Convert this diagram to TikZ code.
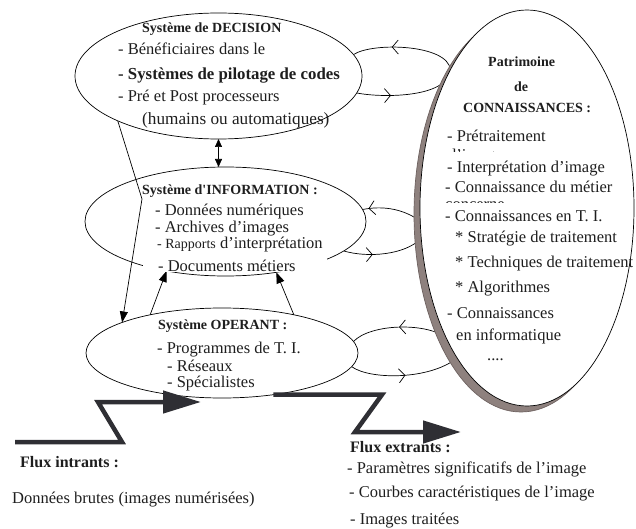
\documentclass[tikz,border=0pt]{standalone}
\usepackage{fontspec}
\setmainfont{Liberation Serif}
\usetikzlibrary{arrows.meta,shapes.geometric,decorations.markings,shadows,calc}
\pgfdeclarelayer{bg}
\pgfsetlayers{bg,main}
\definecolor{txt}{HTML}{1E1E1E}
\definecolor{shadowc}{HTML}{8E817E}
\definecolor{shadowd}{HTML}{6E6260}
\definecolor{flow}{HTML}{2F2F34}
\tikzset{
 sysell/.style={ellipse, draw=black, line width=0.7pt, fill=white, inner sep=0pt, outer sep=0pt},
 hd/.style={anchor=base west, inner sep=0pt, text=txt, font=\fontsize{14}{16}\selectfont\bfseries},
 hdb/.style={anchor=base west, inner sep=0pt, text=txt, font=\fontsize{16}{18}\selectfont\bfseries},
 tx/.style={anchor=base west, inner sep=0pt, text=txt, font=\fontsize{16.5}{19}\selectfont},
 link/.style={draw=black, line width=0.7pt, -{Triangle[length=11pt,width=8pt]}},
 dbl/.style={draw=black, line width=0.7pt, {Triangle[length=8pt,width=7pt]}-{Triangle[length=8pt,width=7pt]}},
 loopl/.style={draw=black, line width=0.7pt},
 midl/.style={postaction={decorate}, decoration={markings, mark=at position #1 with {\arrowreversed{Straight Barb[length=6pt,width=14pt,line width=0.7pt]}}}},
 midr/.style={postaction={decorate}, decoration={markings, mark=at position #1 with {\arrow{Straight Barb[length=6pt,width=14pt,line width=0.7pt]}}}},
 flux/.style={draw=flow, line width=4.5pt, -{Triangle[length=38pt,width=22pt]}},
}
\begin{document}
\begin{tikzpicture}[x=1pt,y=-1pt]
\useasboundingbox (0,0) rectangle (636,529);

% systems
\node[sysell, minimum width=287pt, minimum height=126pt] (dec) at (218.5,76) {};
\node[sysell, minimum width=281pt, minimum height=109pt] (info) at (225.5,221.5) {};
\node[sysell, minimum width=272pt, minimum height=90pt] (oper) at (222,353) {};
\node[sysell, minimum width=214pt, minimum height=396pt,
  drop shadow={shadow xshift=-6pt, shadow yshift=-6pt, fill=shadowc, draw=shadowd, opacity=1}] (pat) at (527,208) {};

% feedback loops (behind)
\begin{pgfonlayer}{bg}
\draw[loopl, midl=0.37] (dec.9.8) .. controls (372,42) and (448,44) .. (pat.119.77);
\draw[loopl, midr=0.33] (dec.-7.46) .. controls (382,98) and (448,98) .. (pat.119.77);
\draw[loopl, midl=0.1] (info.5.66) .. controls (385,205) and (405,210) .. (pat.187.47);
\draw[loopl, midr=0.36] (info.-14.35) .. controls (368,258) and (405,255) .. (pat.196.86);
\draw[loopl, midl=0.5] (oper.5.8) .. controls (370,324) and (425,322) .. (pat.238.17);
\draw[loopl, midr=0.5] (oper.-6.18) .. controls (370,380) and (430,380) .. (pat.245.71);
\end{pgfonlayer}

% arrows between systems
\draw[dbl] (dec.south) -- (dec.south |- info.north);
\coordinate (bend) at (142,199);
\draw[link] (dec.204) -- (bend) -- (oper.163);
\draw[link] (oper.152.05) -- (info.220.84);
\draw[link] (oper.28.4) -- (info.-45.85);

% flows
\coordinate (fin) at (15,442);
\coordinate (fin1) at (122,442);
\coordinate (fin2) at (98,402);
\coordinate (fintip) at (201,402);
\draw[flux] (fin) -- (fin1) -- (fin2) -- (fintip);
\coordinate (fo1) at (382,394);
\coordinate (fo2) at (355,432);
\coordinate (fotip) at (461,432);
\draw[flux] (oper.-39.3) -- (oper.-39.3 -| fo1) -- (fo2) -- (fotip);

% Decision texts
\node[hd] (decT) at (142,33) {Système de DECISION};
\node[tx] (dec1) at (118,55) {- Bénéficiaires dans le};
\node[tx, font=\fontsize{16.8}{19}\selectfont\bfseries] (dec2) at (118,80) {- Systèmes de pilotage de codes};
\node[tx] (dec3) at (118,102) {- Pré et Post processeurs};
\node[tx, font=\fontsize{17.2}{19}\selectfont] (dec4) at (142,125) {(humains ou automatiques)};

% Information texts
\node[hd] (infoT) at (142,195) {Système d\textquotesingle INFORMATION :};
\node[tx] (info1) at (155,215) {- Données numériques};
\node[tx] (info2) at (155,233) {- Archives d’images};
\node[tx] (info3) at (157,248) {{\fontsize{14}{16}\selectfont - Rapports} d’interprétation};
\node[tx, fill=white, text height=14pt, text depth=0.5pt] (info4) at (143,271) {\makebox[184pt][l]{\hspace{15pt}- Documents métiers}};

% Operant texts
\node[hd] (operT) at (158,329) {Système OPERANT :};
\node[tx] (oper1) at (157,353) {- Programmes de T. I.};
\node[tx] (oper2) at (167,371) {- Réseaux};
\node[tx] (oper3) at (167,387) {- Spécialistes};

% Patrimoine texts
\node[hd] (patT1) at (488,67) {Patrimoine};
\node[hd] (patT2) at (514,92) {de};
\node[hd] (patT3) at (463,113) {CONNAISSANCES :};
\node[tx] (pat1) at (447,142) {- Prétraitement};
\begin{scope}
\clip (440,148.5) rectangle (520,151.5);
\node[tx] (pat1b) at (448,161) {\smash{d’image}};
\end{scope}
\node[tx] (pat2) at (447,173) {- Interprétation d’image};
\node[tx] (pat3) at (445,193) {- Connaissance du métier};
\begin{scope}
\clip (440,200.5) rectangle (520,202.5);
\node[tx] (pat3b) at (445,209.5) {\smash{concerné}};
\end{scope}
\node[tx] (pat4) at (445,222) {- Connaissances en T. I.};
\node[tx] (pat5) at (455,242) {* Stratégie de traitement};
\node[tx] (pat6) at (455,267) {* Techniques de traitement};
\node[tx] (pat7) at (455,292) {* Algorithmes};
\node[tx] (pat8) at (447,318) {- Connaissances};
\node[tx] (pat9) at (456,340) {en informatique};
\node[tx] (pat10) at (487,360) {....};

% Flux texts
\node[hdb] (foT) at (350,452) {Flux extrants :};
\node[tx] (fo1t) at (347,473) {- Paramètres significatifs de l’image};
\node[tx] (fo2t) at (349,497) {- Courbes caractéristiques de l’image};
\node[tx] (fo3t) at (350,524) {- Images traitées};
\node[hdb] (finT) at (20,467) {Flux intrants :};
\node[tx] (fin1t) at (12,503) {Données brutes (images numérisées)};
\end{tikzpicture}
\end{document}
